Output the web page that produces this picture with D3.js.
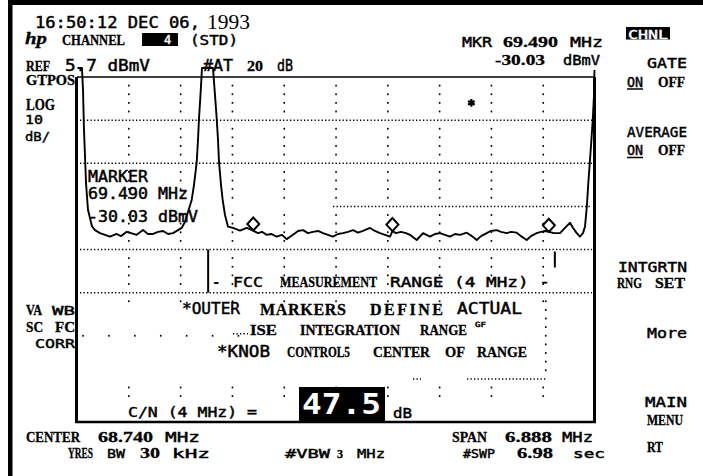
<!DOCTYPE html>
<html><head><meta charset="utf-8">
<script src="https://cdn.jsdelivr.net/npm/d3@7"></script>
<style>html,body{margin:0;padding:0;background:#fff;overflow:hidden}</style>
</head><body>
<svg id="scr" width="703" height="476"></svg>
<script>
// Analyzer settings
const centerMHz = 68.740;
const spanMHz = 6.888;
const refLevel = 5.7;      // dBmV at the top graticule line
const dbPerDiv = 10;
const xDivs = 10, yDivs = 8;

// Swept trace: frequency (MHz) and level (dBmV)
const traceFreq = [65.303,65.362,65.376,65.389,65.416,65.442,65.495,65.535,65.602,65.668,
  65.735,65.824,65.881,65.957,66.014,66.090,66.174,66.240,66.307,66.374,
  66.440,66.507,66.573,66.639,66.688,66.732,66.772,66.821,66.852,66.888,
  66.905,66.918,66.938,66.958,67.104,67.131,67.154,67.171,67.184,67.211,
  67.233,67.264,67.304,67.370,67.463,67.552,67.623,67.703,67.756,67.818,
  67.876,67.951,68.022,68.084,68.168,68.235,68.301,68.368,68.434,68.500,
  68.567,68.633,68.700,68.766,68.833,68.899,68.966,69.032,69.099,69.192,
  69.258,69.325,69.392,69.458,69.490,69.538,69.604,69.671,69.724,69.813,
  69.897,69.990,70.056,70.123,70.189,70.256,70.322,70.389,70.478,70.548,
  70.611,70.668,70.744,70.801,70.877,70.934,71.010,71.067,71.143,71.200,
  71.276,71.333,71.408,71.466,71.519,71.572,71.639,71.719,71.785,71.852,
  71.892,71.941,71.984,72.024,72.051,72.077,72.095,72.127,72.154,72.171,72.177];
const traceLevel = [7.8,7.8,2.7,-6.6,-18.9,-25.1,-28.9,-29.8,-30.5,-30.9,
  -31.3,-30.7,-31.2,-30.2,-30.5,-30.9,-29.8,-30.7,-30.7,-30.2,
  -30.0,-30.7,-30.5,-29.8,-29.3,-27.9,-25.6,-22.8,-19.3,-14.0,
  -8.9,-4.0,1.5,7.8,7.8,1.5,-4.0,-8.9,-14.0,-19.3,
  -22.8,-26.3,-29.0,-29.3,-29.9,-29.3,-29.8,-30.5,-30.2,-30.9,
  -30.7,-31.3,-30.9,-31.9,-30.9,-30.0,-29.8,-30.5,-30.2,-30.0,
  -30.5,-30.9,-31.3,-30.7,-30.5,-30.2,-29.8,-30.4,-30.0,-29.3,
  -30.0,-30.5,-30.9,-31.3,-30.03,-30.5,-30.2,-30.5,-30.9,-32.1,
  -30.5,-31.3,-30.7,-30.5,-30.9,-31.3,-30.7,-30.9,-30.4,-31.2,
  -32.1,-31.2,-30.5,-30.0,-29.8,-30.2,-30.5,-30.2,-30.4,-31.2,
  -32.1,-31.2,-30.5,-30.2,-30.0,-30.2,-30.5,-30.5,-29.3,-28.1,
  -29.3,-30.5,-31.3,-30.5,-29.0,-24.0,-18.9,-11.2,-4.3,1.5,7.3];

// Markers (diamonds): outer pair bounds the integration range
const markerFreq = [67.64, 69.490, 71.57];
const markerLevel = [-29.9, -30.03, -30.2];
// Display-line star symbol
const starFreq = [70.54];
const starLevel = [-0.3];
// FCC measurement range edges
const rangeEdgeFreq = [67.04, 71.65];
// Carrier-to-noise result
const cnRatio = 47.5;

const svg = d3.select('#scr');
const MONO = "'DejaVu Sans Mono', monospace";
const SERIF = "'Liberation Serif', 'Times New Roman', serif";

// Graticule box
const gx0 = 77, gx1 = 595, gy0 = 77, gy1 = 422;
const fStart = centerMHz - spanMHz / 2, fStop = centerMHz + spanMHz / 2;
const x = d3.scaleLinear().domain([fStart, fStop]).range([gx0, gx1]);
const y = d3.scaleLinear().domain([refLevel, refLevel - dbPerDiv * yDivs]).range([gy0, gy1]);

// outer frame of the screen print
svg.append('rect').attr('x', 8).attr('y', 0).attr('width', 695).attr('height', 5).attr('fill', '#000');
svg.append('rect').attr('x', 8).attr('y', 0).attr('width', 4.5).attr('height', 476).attr('fill', '#000');

const vLines = d3.range(1, xDivs).map(i => x(fStart + i * spanMHz / xDivs));
const hLevels = d3.range(1, yDivs).map(i => refLevel - i * dbPerDiv);
const sub = (gy1 - gy0) / yDivs / 5;

const grid = svg.append('g').attr('fill', '#000');
const dot = (px, py) => grid.append('rect').attr('x', px - 0.75).attr('y', py - 0.9).attr('width', 1.6).attr('height', 1.8);
// vertical graticule dots (minor ticks) in the upper area
vLines.forEach(vx => {
  for (let k = 1; k < 25; k++) {
    if (k % 5 === 0) continue;
    dot(vx, gy0 + k * sub);
  }
  [26, 36, 37].forEach(k => dot(vx, gy0 + k * sub));
});
// partly redrawn right-hand vertical in the text area
for (let k = 26; k < 35; k++) dot(vLines[8] + 2.5, gy0 + k * sub);
// horizontal dotted lines
const dotted = (x0, x1, yy) => svg.append('line').attr('x1', x0).attr('x2', x1).attr('y1', yy).attr('y2', yy)
  .attr('stroke', '#000').attr('stroke-width', 1.5).attr('stroke-dasharray', '1.3,2.2');
[0, 1, 3, 4].forEach(i => dotted(gx0 + 3, gx1 - 3, y(hLevels[i])));
dotted(333, gx1 - 5, y(hLevels[2]));
// sparse rows in the lower text area
d3.range(gx0 + 6, 250, 25.9).forEach(dx => dot(dx, y(hLevels[5])));
dotted(467, 547, y(hLevels[6]));
dotted(413, 421, y(hLevels[6]));
dotted(233, 248, y(hLevels[5]) - 2);

// graticule border
svg.append('line').attr('x1', gx0).attr('x2', gx1).attr('y1', gy0).attr('y2', gy0).attr('stroke', '#000').attr('stroke-width', 1.6);
svg.append('line').attr('x1', gx0 - 0.5).attr('x2', gx0 - 0.5).attr('y1', gy0).attr('y2', gy1).attr('stroke', '#000').attr('stroke-width', 3);
svg.append('line').attr('x1', gx1 - 0.5).attr('x2', gx1 - 0.5).attr('y1', gy0).attr('y2', gy1 + 1).attr('stroke', '#000').attr('stroke-width', 3);
svg.append('line').attr('x1', gx0 - 2).attr('x2', gx1 + 1).attr('y1', gy1).attr('y2', gy1).attr('stroke', '#000').attr('stroke-width', 2.5);

// FCC range edge ticks
svg.append('line').attr('x1', x(rangeEdgeFreq[0])).attr('x2', x(rangeEdgeFreq[0])).attr('y1', y(hLevels[3])).attr('y2', y(hLevels[4]))
  .attr('stroke', '#000').attr('stroke-width', 2);
svg.append('line').attr('x1', x(rangeEdgeFreq[1])).attr('x2', x(rangeEdgeFreq[1])).attr('y1', y(hLevels[3]) + 2).attr('y2', y(hLevels[3]) + 18)
  .attr('stroke', '#000').attr('stroke-width', 2);

// text helper: 'm' = instrument mono font, 's' = bold serif, 'r' = plain serif
function t(px, py, s, o) {
  const fill = o.fill || '#000';
  const el = svg.append('text').attr('x', px).attr('y', py).text(s)
    .attr('font-family', o.f === 'm' ? MONO : SERIF)
    .attr('font-size', o.size)
    .attr('font-weight', o.f === 's' || o.bold ? 'bold' : 'normal')
    .attr('fill', fill);
  if (o.f === 'm' && !o.bold) el.attr('stroke', fill).attr('stroke-width', 0.45);
  if (o.f === 's') el.attr('stroke', fill).attr('stroke-width', 0.3);
  if (o.w) el.attr('textLength', o.w).attr('lengthAdjust', o.adj || 'spacingAndGlyphs');
  return el;
}

// header
t(35, 28, '16:50:12 DEC 06,', {f: 'm', size: 15, w: 165});
t(207, 29, '1993', {f: 'r', size: 20, w: 43});
t(25, 44, 'hp', {f: 's', size: 17, w: 22}).attr('font-style', 'italic');
t(62, 45, 'CHANNEL', {f: 's', size: 14.5, w: 63});
svg.append('rect').attr('x', 142).attr('y', 33).attr('width', 36).attr('height', 13).attr('fill', '#000');
t(164, 44, '4', {f: 'm', size: 12, fill: '#fff'});
t(190, 45, '(STD)', {f: 'm', size: 14, w: 48});
t(26, 71, 'REF', {f: 's', size: 15, w: 24});
t(65, 71, '5.7 dBmV', {f: 'm', size: 15, w: 85});
t(203, 71, '#AT', {f: 'm', size: 15, w: 30});
t(247, 71, '20', {f: 's', size: 15, w: 16});
t(277, 71, 'dB', {f: 'm', size: 15, w: 16});
t(462, 47, 'MKR', {f: 'm', size: 14, w: 30});
t(503, 47, '69.490', {f: 's', size: 15, w: 55});
t(570, 47, 'MHz', {f: 'm', size: 14, w: 33});
t(495, 65, '-30.03', {f: 's', size: 15, w: 50});
t(563, 65, 'dBmV', {f: 'm', size: 14, w: 37});

// left annotations
t(26, 85, 'GTPOS', {f: 's', size: 14, w: 49});
t(26, 110, 'LOG', {f: 's', size: 16, w: 29});
t(25, 124, '10', {f: 'm', size: 13, w: 18});
t(25, 141, 'dB/', {f: 'm', size: 13, w: 25});
t(26, 315, 'VA', {f: 's', size: 14, w: 16});
t(52, 315, 'WB', {f: 'm', size: 13, w: 23});
t(26, 332, 'SC', {f: 's', size: 14, w: 17});
t(55, 332, 'FC', {f: 's', size: 14, w: 20});
t(35, 348, 'CORR', {f: 'm', size: 13, w: 40});

// softkeys
svg.append('rect').attr('x', 626).attr('y', 27).attr('width', 44).attr('height', 12.5).attr('fill', '#000');
t(628, 38.5, 'CHNL', {f: 'm', size: 12.5, w: 40, fill: '#fff'});
t(647, 68, 'GATE', {f: 'm', size: 14, w: 40});
t(627, 87, 'ON', {f: 'm', size: 14, w: 16});
svg.append('line').attr('x1', 627).attr('x2', 643).attr('y1', 89).attr('y2', 89).attr('stroke', '#000').attr('stroke-width', 1.5);
t(658, 87, 'OFF', {f: 's', size: 14, w: 27});
t(627, 137, 'AVERAGE', {f: 'm', size: 14, w: 60});
t(627, 155, 'ON', {f: 'm', size: 14, w: 16});
svg.append('line').attr('x1', 627).attr('x2', 643).attr('y1', 157.5).attr('y2', 157.5).attr('stroke', '#000').attr('stroke-width', 1.5);
t(658, 155, 'OFF', {f: 's', size: 14, w: 27});
t(618, 272, 'INTGRTN', {f: 'm', size: 14, w: 69});
t(617, 288, 'RNG', {f: 's', size: 14, w: 25});
t(655, 288, 'SET', {f: 's', size: 14, w: 30});
t(647, 338, 'More', {f: 'm', size: 14, w: 40});
t(645, 407, 'MAIN', {f: 'm', size: 14, w: 42});
t(647, 425, 'MENU', {f: 's', size: 14, w: 36});
t(647, 452, 'RT', {f: 's', size: 14, w: 16});

// bottom annotations
t(26, 442, 'CENTER', {f: 's', size: 15, w: 54});
t(98, 442, '68.740', {f: 's', size: 15.5, w: 55});
t(165, 442, 'MHz', {f: 'm', size: 14, w: 35});
t(68, 458, 'YRES', {f: 's', size: 14, w: 25});
t(107, 458, 'BW', {f: 'm', size: 13, w: 18});
t(140, 458, '30', {f: 's', size: 15, w: 20});
t(172, 458, 'kHz', {f: 'm', size: 13, w: 38});
t(285, 458, '#VBW', {f: 'm', size: 13, w: 45});
t(337, 458, '3', {f: 's', size: 12, w: 6});
t(357, 458, 'MHz', {f: 'm', size: 13, w: 28});
t(452, 442, 'SPAN', {f: 's', size: 15, w: 35});
t(505, 442, '6.888', {f: 's', size: 15.5, w: 47});
t(562, 442, 'MHz', {f: 'm', size: 14, w: 31});
t(463, 458, '#SWP', {f: 'm', size: 13, w: 32});
t(517, 458, '6.98', {f: 's', size: 15.5, w: 36});
t(573, 458, 'sec', {f: 'm', size: 13, w: 32});

// help text inside the graticule
t(212, 287, '-', {f: 'm', size: 14, bold: true});
t(233, 287, 'FCC', {f: 'm', size: 14, w: 30});
t(280, 287, 'MEASUREMENT', {f: 's', size: 15, w: 97});
t(390, 287, 'RANGE (4 MHz) -', {f: 'm', size: 14, w: 160});
t(182, 314, '*OUTER', {f: 'm', size: 15, w: 58});
t(260, 315, 'MARKERS', {f: 's', size: 16, w: 86, adj: 'spacing'});
t(370, 315, 'DEFINE', {f: 's', size: 16, w: 73, adj: 'spacing'});
t(457, 314, 'ACTUAL', {f: 'm', size: 15, w: 65});
t(250, 335, 'ISE', {f: 's', size: 15, w: 27});
t(300, 335, 'INTEGRATION', {f: 's', size: 15, w: 100});
t(420, 335, 'RANGE', {f: 's', size: 15, w: 47});
t(475, 327, 'GF', {f: 'm', size: 7, w: 11});
t(217, 357, '*KNOB', {f: 'm', size: 15, w: 53});
t(287, 357, 'CONTROL5', {f: 's', size: 15, w: 63});
t(373, 357, 'CENTER', {f: 's', size: 15, w: 57});
t(445, 357, 'OF', {f: 's', size: 15, w: 20});
t(477, 357, 'RANGE', {f: 's', size: 15, w: 50});

// marker readout
t(88, 182, 'MARKER', {f: 'm', size: 15, w: 60});
t(88, 199, '69.490 MHz', {f: 'm', size: 15, w: 100});
t(88, 222, '-30.03 dBmV', {f: 'm', size: 15, w: 110});

// C/N result
t(128, 417, 'C/N (4 MHz) =', {f: 'm', size: 14, w: 129});
svg.append('rect').attr('x', 299).attr('y', 387).attr('width', 86).attr('height', 35).attr('fill', '#000');
t(302, 414, d3.format('.1f')(cnRatio), {f: 'm', size: 28, w: 79, bold: true, fill: '#fff'});
t(393, 418, 'dB', {f: 'm', size: 14, w: 19});

// trace
const pts = d3.zip(traceFreq, traceLevel);
svg.append('path').datum(pts)
  .attr('d', d3.line().x(d => x(d[0])).y(d => y(d[1])))
  .attr('fill', 'none').attr('stroke', '#000').attr('stroke-width', 1.9).attr('stroke-linejoin', 'round');

// marker diamonds sitting on the trace
d3.zip(markerFreq, markerLevel).forEach(([f, l]) => {
  const mx = x(f), my = y(l);
  svg.append('path').attr('d', `M${mx},${my}L${mx + 6},${my - 6.5}L${mx},${my - 13}L${mx - 6},${my - 6.5}Z`)
    .attr('fill', '#fff').attr('stroke', '#000').attr('stroke-width', 2);
});

// star symbol
d3.zip(starFreq, starLevel).forEach(([f, l]) => {
  svg.append('path').attr('d', d3.symbol(d3.symbolAsterisk, 40)())
    .attr('transform', `translate(${x(f)},${y(l)})`).attr('stroke', '#000').attr('stroke-width', 2.2).attr('fill', 'none');
});
</script>
</body></html>
